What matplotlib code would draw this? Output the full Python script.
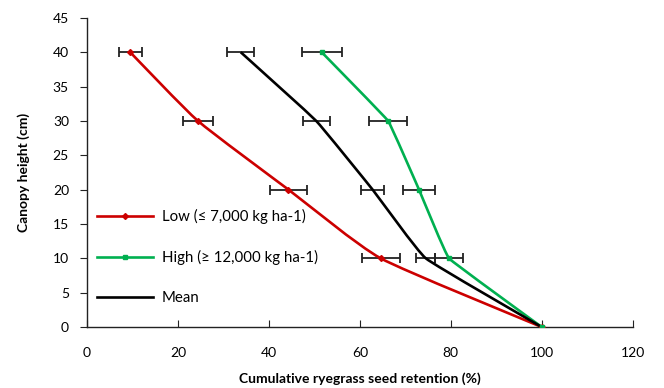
import matplotlib
matplotlib.use("Agg")
import matplotlib.pyplot as plt
from matplotlib.path import Path
from matplotlib.patches import PathPatch
from matplotlib.lines import Line2D
import numpy as np

plt.rcParams['font.family'] = ['Lato', 'DejaVu Sans']

heights = [0, 10, 20, 30, 40]
low = [100, 64.6, 44.3, 24.4, 9.5]
low_err = [0, 4.2, 4.0, 3.4, 2.5]
high = [100, 79.6, 73.0, 66.2, 51.6]
high_err = [0, 3.0, 3.5, 4.2, 4.4]
mean = [100, 74.5, 62.8, 50.4, 33.8]
mean_err = [0, 2.1, 2.6, 3.0, 3.0]

labels = ["Low (≤ 7,000 kg ha-1)", "High (≥ 12,000 kg ha-1)", "Mean"]
colors = ["#cc0000", "#00b050", "#000000"]
xticks = [0, 20, 40, 60, 80, 100, 120]
yticks = [0, 5, 10, 15, 20, 25, 30, 35, 40, 45]


def smooth_path(xs, ys, t):
    pts = np.column_stack([xs, ys]).astype(float)
    n = len(pts)
    verts = [pts[0]]
    codes = [Path.MOVETO]
    for i in range(n - 1):
        p0 = pts[i - 1] if i > 0 else pts[i]
        p1 = pts[i]
        p2 = pts[i + 1]
        p3 = pts[i + 2] if i + 2 < n else pts[i + 1]
        c1 = p1 + (p2 - p0) * t
        c2 = p2 - (p3 - p1) * t
        verts += [c1, c2, p2]
        codes += [Path.CURVE4] * 3
    return Path(verts, codes)


fig = plt.figure(figsize=(6.64, 3.88), dpi=100)
ax = fig.add_axes([0.131, 0.157, 0.822, 0.797])

series = [(low, low_err, 'D', 3.0, 0.09), (high, high_err, 's', 3.0, 0.03),
          (mean, mean_err, None, 0, 0.05)]
for (vals, errs, mk, ms, t), c in zip(series, colors):
    ax.errorbar(vals[1:], heights[1:], xerr=errs[1:], fmt='none', ecolor='#222222',
                elinewidth=1.3, capsize=3.5, capthick=1.3, zorder=2)

for (vals, errs, mk, ms, t), c in zip(series, colors):
    ax.add_patch(PathPatch(smooth_path(vals, heights, t), facecolor='none', edgecolor=c,
                           lw=1.9, zorder=3))
    if mk:
        ax.plot(vals, heights, linestyle='none', marker=mk, ms=ms, color=c, zorder=4)

handles = [
    Line2D([], [], color=colors[0], lw=1.9, marker='D', ms=3),
    Line2D([], [], color=colors[1], lw=1.9, marker='s', ms=3),
    Line2D([], [], color=colors[2], lw=1.9),
]
ax.legend(handles, labels, loc='lower left', bbox_to_anchor=(0.0, 0.037), frameon=False,
          fontsize=10.8, labelspacing=1.72, handlelength=3.7, handletextpad=0.6,
          borderaxespad=0.3, markerscale=1.0)

ax.set_xlim(0, 120)
ax.set_ylim(0, 45)
ax.set_xticks(xticks)
ax.set_yticks(yticks)
ax.spines['top'].set_visible(False)
ax.spines['right'].set_visible(False)
for s in ['left', 'bottom']:
    ax.spines[s].set_color('#222222')
    ax.spines[s].set_linewidth(1.0)
ax.tick_params(axis='x', direction='in', length=5, color='#222222', labelsize=10, pad=14)
ax.tick_params(axis='y', direction='out', length=5, color='#222222', labelsize=10, pad=8)
ax.set_xlabel("Cumulative ryegrass seed retention (%)", fontsize=10, fontweight='bold', labelpad=10)
ax.set_ylabel("Canopy height (cm)", fontsize=10, fontweight='bold', labelpad=16)

fig.savefig("out.png", dpi=100)
